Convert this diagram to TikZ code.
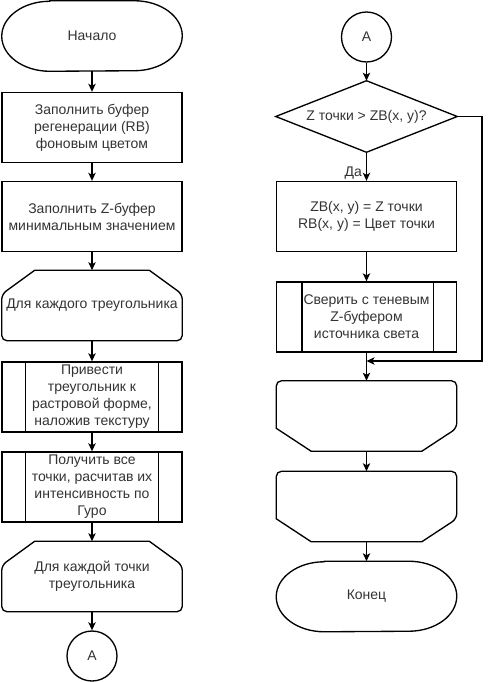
\documentclass[tikz,border=0pt]{standalone}
\usepackage{fontspec}
\setmainfont{Liberation Sans}
\usetikzlibrary{arrows.meta,positioning}
\definecolor{txt}{HTML}{333333}
\begin{document}
\begin{tikzpicture}[x=0.75pt,y=-0.75pt,
  every node/.style={font=\fontsize{10.5}{12.75}\selectfont, text=txt, align=center, inner sep=0pt},
  ln/.style={line width=1pt, draw=black},
  arr/.style={ln, -{Stealth[length=6pt,width=5.5pt,inset=1.5pt]}},
  blk/.style={ln, rectangle, minimum width=135pt, minimum height=52.5pt},
  boxnd/.style={rectangle, minimum width=135pt, minimum height=52.5pt},
  conn/.style={ln, circle, minimum size=37.5pt}
]
\useasboundingbox (0,0) rectangle (490,682);

\newcommand{\termpath}[1]{%
  \draw[ln] ([xshift=36pt]#1.north west) -- ([xshift=-36pt]#1.north east)
    arc[start angle=90, end angle=-90, x radius=36pt, y radius=26.25pt]
    -- ([xshift=36pt]#1.south west)
    arc[start angle=270, end angle=90, x radius=36pt, y radius=26.25pt] -- cycle;}

% ---------- left column ----------
\node[boxnd] (start) at (92,36) {Начало};
\termpath{start}
\node[blk] (b1) at (92,127.5) {Заполнить буфер\\регенерации (RB)\\фоновым цветом};
\node[blk] (b2) at (92,216.5) {Заполнить Z-буфер\\минимальным значением};
\node[boxnd] (l1) at (92,305.5) {Для каждого треугольника};
\draw[ln, rounded corners=4pt] ([xshift=24.75pt]l1.north west) -- ([yshift=-18pt]l1.north west) -- (l1.south west) -- (l1.south east) -- ([yshift=-18pt]l1.north east) [sharp corners]-- ([xshift=-24.75pt]l1.north east) -- cycle;
\node[blk] (b3) at (92,397) {Привести\\треугольник к\\растровой форме,\\наложив текстуру};
\draw[ln] ([xshift=18pt]b3.north west) -- ([xshift=18pt]b3.south west);
\draw[ln] ([xshift=-18pt]b3.north east) -- ([xshift=-18pt]b3.south east);
\node[blk] (b4) at (92,487) {Получить все\\точки, расчитав их\\интенсивность по\\Гуро};
\draw[ln] ([xshift=18pt]b4.north west) -- ([xshift=18pt]b4.south west);
\draw[ln] ([xshift=-18pt]b4.north east) -- ([xshift=-18pt]b4.south east);
\node[boxnd] (l2) at (92,576.5) {Для каждой точки\\треугольника};
\draw[ln, rounded corners=4pt] ([xshift=24.75pt]l2.north west) -- ([yshift=-18pt]l2.north west) -- (l2.south west) -- (l2.south east) -- ([yshift=-18pt]l2.north east) [sharp corners]-- ([xshift=-24.75pt]l2.north east) -- cycle;
\node[conn] (ca) at (92,656) {A};

\draw[arr] (start.south) -- (b1);
\draw[arr] (b1) -- (b2);
\draw[arr] (b2) -- (l1);
\draw[arr] (l1) -- (b3);
\draw[arr] (b3) -- (b4);
\draw[arr] (b4) -- (l2);
\draw[arr] (l2) -- (ca);

% ---------- right column ----------
\node[conn] (cb) at (366.5,37) {A};
\node[rectangle, minimum width=135.75pt, minimum height=53.25pt] (dec) at (366.5,116.5) {Z точки > ZB(x, y)?};
\draw[ln] (dec.north) -- (dec.east) -- (dec.south) -- (dec.west) -- cycle;
\node[blk] (b5) at (366.5,216.5) {ZB(x, y) = Z точки\\RB(x, y) = Цвет точки};
\node[blk] (b6) at (366.5,317) {Сверить с теневым\\Z-буфером\\источника света};
\draw[ln] ([xshift=19.5pt]b6.north west) -- ([xshift=19.5pt]b6.south west);
\draw[ln] ([xshift=-18pt]b6.north east) -- ([xshift=-18pt]b6.south east);
\node[boxnd] (l3) at (366.5,416) {};
\draw[ln, rounded corners=4pt] ([yshift=17.25pt]l3.south west) -- (l3.north west) -- (l3.north east) -- ([yshift=17.25pt]l3.south east) [sharp corners]-- ([xshift=-26.25pt]l3.south east) -- ([xshift=26.25pt]l3.south west) -- cycle;
\node[boxnd] (l4) at (366.5,506.5) {};
\draw[ln, rounded corners=4pt] ([yshift=17.25pt]l4.south west) -- (l4.north west) -- (l4.north east) -- ([yshift=17.25pt]l4.south east) [sharp corners]-- ([xshift=-26.25pt]l4.south east) -- ([xshift=26.25pt]l4.south west) -- cycle;
\node[boxnd] (end) at (366.5,596.5) {Конец};
\termpath{end}

\coordinate (m) at (366.5,361);
\coordinate (rr) at (482,116.5);
\draw[arr] (cb) -- (dec.north);
\draw[arr] (dec.south) -- node[pos=0.72, left=3pt] {Да} (b5);
\draw[arr] (b5) -- (b6);
\draw[ln] (b6) -- (m);
\draw[arr] (m) -- (l3.north);
\draw[arr] (dec.east) -- (rr) |- (m);
\draw[arr] (l3.south) -- (l4.north);
\draw[arr] (l4.south) -- (end.north);
\end{tikzpicture}
\end{document}
